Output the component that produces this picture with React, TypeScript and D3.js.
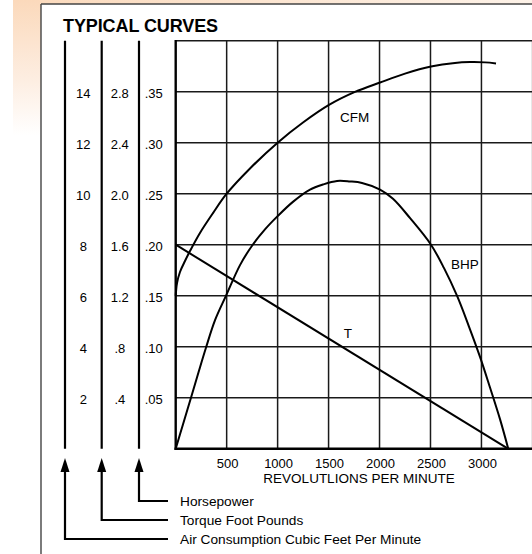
import React from 'react';
import * as d3 from 'd3';

// ---- data ----
const rpmTicks = [500, 1000, 1500, 2000, 2500, 3000];
const cfmTicks = [2, 4, 6, 8, 10, 12, 14];
const cfmTickLabels = ['2', '4', '6', '8', '10', '12', '14'];
const torqueTicks = [0.4, 0.8, 1.2, 1.6, 2.0, 2.4, 2.8];
const torqueTickLabels = ['.4', '.8', '1.2', '1.6', '2.0', '2.4', '2.8'];
const hpTicks = [0.05, 0.1, 0.15, 0.2, 0.25, 0.3, 0.35];
const hpTickLabels = ['.05', '.10', '.15', '.20', '.25', '.30', '.35'];

// Air consumption (CFM) vs rpm
const cfmRpm = [0, 13, 42, 91, 140, 238, 366, 500, 729, 1000, 1249, 1504, 1759, 2005, 2250, 2505, 2740, 2888, 3035, 3143];
const cfmValues = [6.0, 6.5, 6.93, 7.36, 7.75, 8.46, 9.24, 10.0, 10.99, 12.0, 12.79, 13.48, 13.99, 14.36, 14.71, 14.99, 15.13, 15.16, 15.15, 15.11];

// Brake horsepower vs rpm
const bhpRpm = [0, 72, 150, 224, 297, 386, 494, 631, 749, 876, 1000, 1150, 1318, 1445, 1583, 1710, 1828, 2005, 2132, 2300, 2505, 2633, 2760, 2873, 2986, 3084, 3182, 3263];
const bhpValues = [0, 0.024, 0.05, 0.075, 0.099, 0.126, 0.15, 0.18, 0.199, 0.215, 0.228, 0.242, 0.254, 0.259, 0.2625, 0.262, 0.2605, 0.254, 0.245, 0.226, 0.2, 0.177, 0.15, 0.121, 0.09, 0.06, 0.029, 0];

// Torque (ft-lb) vs rpm
const torqueRpm = [0, 3260];
const torqueValues = [1.6, 0];

const curveLabels = ['CFM', 'BHP', 'T'];
const curveLabelRpm = [1755, 2838, 1689];
const curveLabelCfm = [12.83, 7.04, 4.33];

const legendLabels = ['Horsepower', 'Torque Foot Pounds', 'Air Consumption Cubic Feet Per Minute'];
const axisTitle = 'REVOLUTLIONS PER MINUTE';
const chartTitle = 'TYPICAL CURVES';

// ---- layout ----
const W = 532;
const H = 554;
const plotLeft = 175.7;
const plotRight = 532.4;
const plotTop = 40.7;
const plotBottom = 448.7;
const colX = [65, 101.7, 139];
const colLabelX = [83.3, 119.8, 153.8];
const legY = [501, 520, 539];
const FONT = "'Liberation Sans', Arial, Helvetica, sans-serif";

export default function App() {
  const x = d3.scaleLinear().domain([0, 3500]).range([plotLeft, plotRight]);
  const yCfm = d3.scaleLinear().domain([0, 16]).range([plotBottom, plotTop]);
  const yTorque = d3.scaleLinear().domain([0, 3.2]).range([plotBottom, plotTop]);
  const yHp = d3.scaleLinear().domain([0, 0.4]).range([plotBottom, plotTop]);

  const mk = (xs: number[], ys: number[], y: d3.ScaleLinear<number, number>) =>
    d3
      .line<number>()
      .x((_, i) => x(xs[i]))
      .y((_, i) => y(ys[i]))
      .curve(d3.curveCatmullRom.alpha(0.5))(xs) || '';

  const cfmPath = mk(cfmRpm, cfmValues, yCfm);
  const bhpPath = mk(bhpRpm, bhpValues, yHp);
  const torquePath =
    d3
      .line<number>()
      .x((_, i) => x(torqueRpm[i]))
      .y((_, i) => yTorque(torqueValues[i]))(torqueRpm) || '';

  const hGrid = [...cfmTicks, 16];
  const colLabels = [cfmTickLabels, torqueTickLabels, hpTickLabels];
  const colTickVals = [cfmTicks.map(yCfm), torqueTicks.map(yTorque), hpTicks.map(yHp)];
  const legendCols = [2, 1, 0];

  return (
    <svg
      width={W}
      height={H}
      style={{ position: 'absolute', left: 0, top: 0, background: '#fff' }}
      fontFamily={FONT}
    >
      <defs>
        <linearGradient id="gTop" x1="0" x2="1" y1="0" y2="0">
          <stop offset="0" stopColor="#fbd9bb" />
          <stop offset="1" stopColor="#fdf2e8" />
        </linearGradient>
        <linearGradient id="gLeft" x1="0" x2="0" y1="0" y2="1">
          <stop offset="0" stopColor="#fbd9bb" />
          <stop offset="0.6" stopColor="#fdeee2" />
          <stop offset="1" stopColor="#ffffff" />
        </linearGradient>
      </defs>
      <rect x={13} y={0} width={W - 13} height={4} fill="url(#gTop)" />
      <rect x={13} y={0} width={28} height={135} fill="url(#gLeft)" />
      {/* frame */}
      <line x1={41} x2={41} y1={4} y2={H} stroke="#444" strokeWidth={1.4} />
      <line x1={41} x2={W} y1={4} y2={4} stroke="#444" strokeWidth={1.4} />

      <text x={63} y={31.5} fontSize={18} fontWeight="bold" fill="#000" letterSpacing={-0.1}>
        {chartTitle}
      </text>

      {/* grid */}
      {rpmTicks.map((r) => (
        <line key={'v' + r} x1={x(r)} x2={x(r)} y1={plotTop} y2={plotBottom} stroke="#1a1a1a" strokeWidth={1.5} />
      ))}
      <line x1={x(3500)} x2={x(3500)} y1={plotTop} y2={plotBottom} stroke="#888" strokeWidth={1.2} />
      {hGrid.map((v) => (
        <line key={'h' + v} x1={plotLeft} x2={plotRight} y1={yCfm(v)} y2={yCfm(v)} stroke="#1a1a1a" strokeWidth={1.5} />
      ))}
      <line x1={plotLeft} x2={plotLeft} y1={plotTop - 0.7} y2={plotBottom + 1.2} stroke="#000" strokeWidth={2.4} />
      <line x1={plotLeft - 1.2} x2={plotRight} y1={plotBottom} y2={plotBottom} stroke="#000" strokeWidth={2.6} />

      {/* curves */}
      <path d={cfmPath} fill="none" stroke="#000" strokeWidth={2} />
      <path d={bhpPath} fill="none" stroke="#000" strokeWidth={2} />
      <path d={torquePath} fill="none" stroke="#000" strokeWidth={2} />

      {curveLabels.map((l, i) => (
        <text key={l} x={x(curveLabelRpm[i])} y={yCfm(curveLabelCfm[i])} fontSize={13.5} textAnchor="middle" fill="#000">
          {l}
        </text>
      ))}

      {/* x ticks */}
      {rpmTicks.map((r) => (
        <text key={'xt' + r} x={x(r) + 1} y={467.5} fontSize={13} textAnchor="middle" fill="#000">
          {r}
        </text>
      ))}
      <text x={359} y={482.6} fontSize={13.5} textAnchor="middle" fill="#000">
        {axisTitle}
      </text>

      {/* left scale columns */}
      {colX.map((cx, ci) => (
        <g key={'c' + ci}>
          <line x1={cx} x2={cx} y1={plotTop} y2={plotBottom} stroke="#000" strokeWidth={2.2} />
          {colLabels[ci].map((lab, k) => (
            <text
              key={lab}
              x={colLabelX[ci]}
              y={colTickVals[ci][k] + 1.5}
              dominantBaseline="central"
              fontSize={13}
              textAnchor="middle"
              fill="#000"
            >
              {lab}
            </text>
          ))}
          <path d={`M${cx},458 L${cx - 4.5},472 L${cx + 4.5},472 Z`} fill="#000" />
        </g>
      ))}

      {/* legend legs */}
      {legendLabels.map((lab, i) => {
        const cx = colX[legendCols[i]];
        return (
          <g key={lab}>
            <path d={`M${cx},471 L${cx},${legY[i]} L168,${legY[i]}`} fill="none" stroke="#000" strokeWidth={2.2} />
            <text x={180} y={legY[i] + 5} fontSize={13.7} fill="#000">
              {lab}
            </text>
          </g>
        );
      })}
    </svg>
  );
}
